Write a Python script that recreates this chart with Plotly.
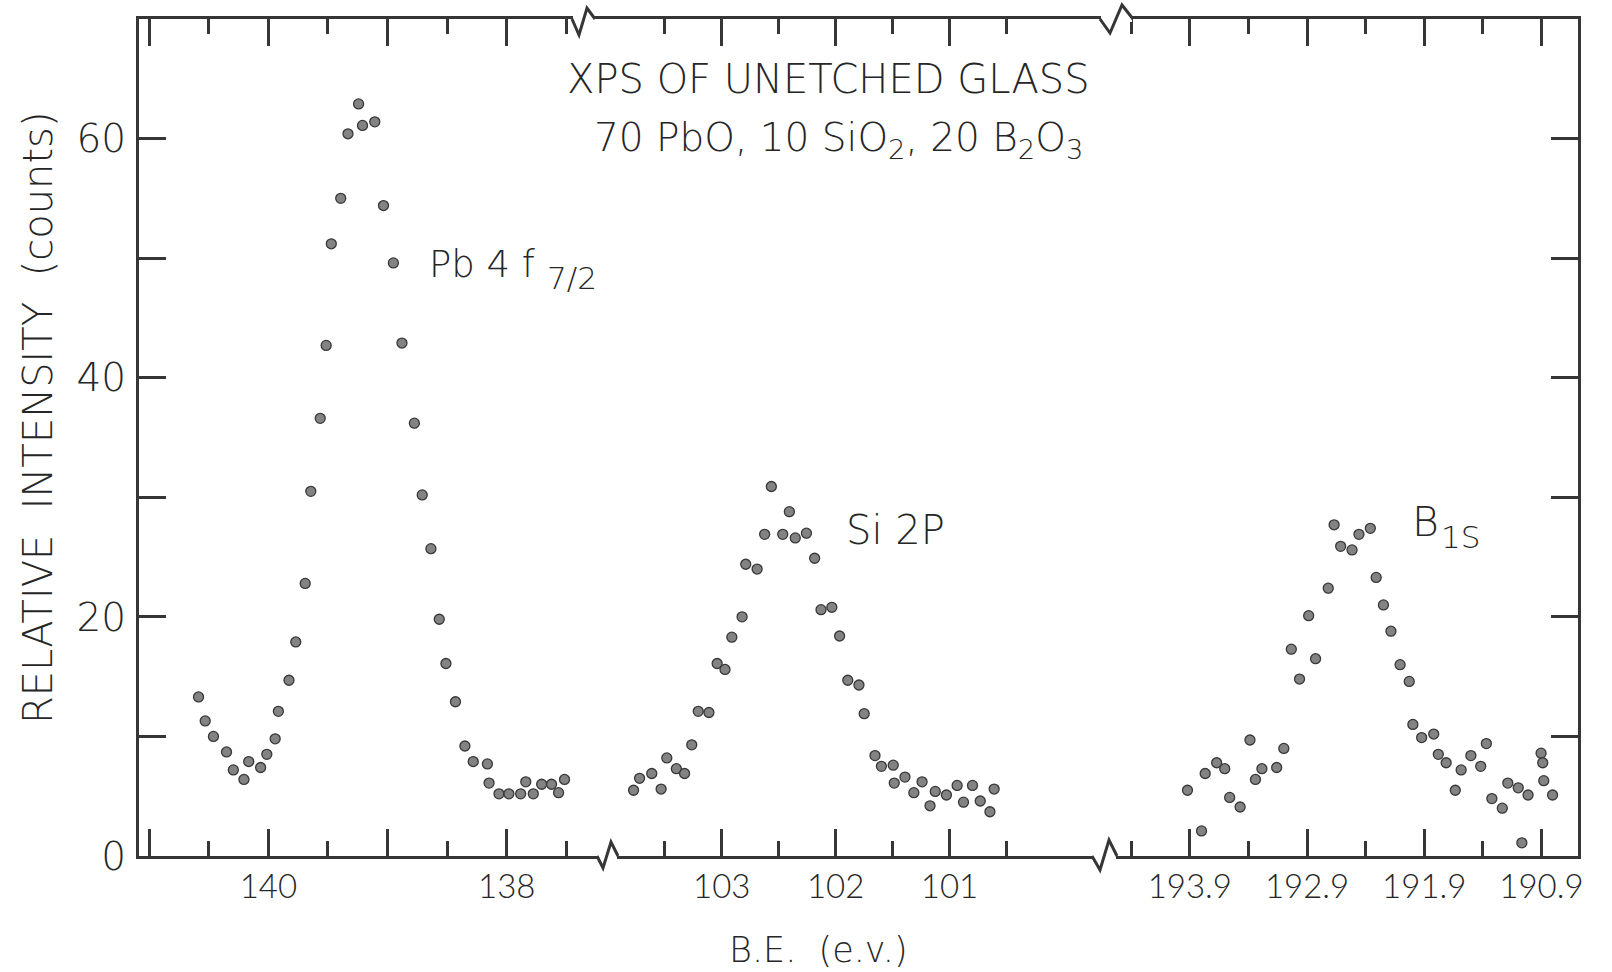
import plotly.graph_objects as go

# ---------------- data ----------------
pb_be = [140.586, 140.530, 140.461, 140.351, 140.294, 140.205, 140.165, 140.065, 140.013,
         139.943, 139.916, 139.827, 139.770, 139.691, 139.644, 139.565, 139.515, 139.472,
         139.393, 139.332, 139.243, 139.210, 139.107, 139.034, 138.951, 138.879, 138.775,
         138.709, 138.636, 138.566, 138.510, 138.430, 138.351, 138.281, 138.162, 138.148,
         138.065, 137.982, 137.883, 137.840, 137.777, 137.707, 137.624, 137.565, 137.515]
pb_counts = [13.3, 11.3, 10.0, 8.7, 7.2, 6.4, 7.9, 7.4, 8.5,
             9.8, 12.1, 14.7, 17.9, 22.8, 30.5, 36.6, 42.7, 51.2,
             55.0, 60.4, 62.9, 61.1, 61.4, 54.4, 49.6, 42.9, 36.2,
             30.2, 25.7, 19.8, 16.1, 12.9, 9.2, 7.9, 7.7, 6.1,
             5.2, 5.2, 5.2, 6.2, 5.2, 6.0, 6.0, 5.3, 6.4]

si_be = [103.774, 103.721, 103.614, 103.532, 103.482, 103.398, 103.326, 103.263, 103.206,
         103.112, 103.040, 102.971, 102.911, 102.821, 102.789, 102.689, 102.623, 102.564,
         102.464, 102.406, 102.354, 102.256, 102.184, 102.128, 102.033, 101.965, 101.893,
         101.795, 101.749, 101.654, 101.598, 101.494, 101.485, 101.391, 101.313, 101.241,
         101.171, 101.125, 101.027, 100.933, 100.877, 100.798, 100.730, 100.645, 100.608]
si_counts = [5.5, 6.5, 6.9, 5.6, 8.2, 7.3, 6.9, 9.3, 12.1,
             12.0, 16.1, 15.6, 18.3, 20.0, 24.4, 24.0, 26.9, 30.9,
             26.9, 28.8, 26.6, 27.0, 24.9, 20.6, 20.8, 18.4, 14.7,
             14.3, 11.9, 8.4, 7.5, 7.6, 6.1, 6.6, 5.3, 6.2,
             4.2, 5.4, 5.1, 5.9, 4.5, 5.9, 4.6, 3.7, 5.6]

b_be = [193.920, 193.800, 193.769, 193.671, 193.602, 193.560, 193.471, 193.387, 193.340,
        193.285, 193.159, 193.098, 193.034, 192.964, 192.886, 192.827, 192.719, 192.669,
        192.613, 192.516, 192.457, 192.360, 192.310, 192.248, 192.184, 192.106, 192.028,
        191.997, 191.922, 191.819, 191.780, 191.713, 191.635, 191.585, 191.502, 191.418,
        191.370, 191.323, 191.234, 191.187, 191.098, 191.067, 191.014, 190.903, 190.889,
        190.880, 190.805]
b_counts = [5.5, 2.1, 6.9, 7.8, 7.3, 4.9, 4.1, 9.7, 6.4,
            7.3, 7.4, 9.0, 17.3, 14.8, 20.1, 16.5, 22.4, 27.7,
            25.9, 25.6, 26.9, 27.4, 23.3, 21.0, 18.8, 16.0, 14.6,
            11.0, 9.9, 10.2, 8.5, 7.8, 5.5, 7.2, 8.4, 7.5,
            9.4, 4.8, 4.0, 6.1, 5.7, 1.1, 5.1, 8.6, 7.8,
            6.3, 5.1]

pb_ticks = [140, 138]
pb_ticktext = ["140", "138"]
pb_long_unlabeled = [141, 139]
pb_minor = [140.5, 139.5, 138.5, 137.5]
si_ticks = [103, 102, 101]
si_ticktext = ["103", "102", "101"]
si_minor = [103.5, 102.5, 101.5, 100.5]
b_ticks = [193.9, 192.9, 191.9, 190.9]
b_ticktext = ["193.9", "192.9", "191.9", "190.9"]
b_minor = [194.4, 193.4, 192.4, 191.4]
y_ticks = [0, 20, 40, 60]
y_ticktext = ["0", "20", "40", "60"]
y_minor = [10, 30, 50]

# ---------------- layout geometry ----------------
W, H = 1612, 972
L, R, T, B = 139, 1578, 19, 856
def px(x):
    return (x - L) / (R - L)
def py(y):
    return (B - y) / (B - T)

d1 = px(605)
d2 = px(1112)
PB_RANGE = [141.0856, 137.1753]
SI_RANGE = [104.0246, 99.5733]
B_RANGE = [194.564, 190.588]

INK = "#363636"
TXT = "#262626"
FONT = "'DejaVu Sans', Lato, sans-serif"
TICKFONT = "Lato, 'DejaVu Sans', sans-serif"

marker = dict(size=10, color="#838383", line=dict(color="#383838", width=1.3))

fig = go.Figure()
fig.add_trace(go.Scatter(x=pb_be, y=pb_counts, mode="markers", marker=marker,
                         xaxis="x", yaxis="y", showlegend=False, name="Pb 4f7/2"))
fig.add_trace(go.Scatter(x=si_be, y=si_counts, mode="markers", marker=marker,
                         xaxis="x2", yaxis="y", showlegend=False, name="Si 2p"))
fig.add_trace(go.Scatter(x=b_be, y=b_counts, mode="markers", marker=marker,
                         xaxis="x3", yaxis="y", showlegend=False, name="B 1s"))
fig.add_trace(go.Scatter(x=[], y=[], xaxis="x3", yaxis="y2", showlegend=False))
fig.add_trace(go.Scatter(x=[], y=[], xaxis="x4", yaxis="y", showlegend=False))

tickfont_x = dict(family=TICKFONT, size=33, color=TXT, weight=300)

def xaxis(dom, rng, tv, tt, mv):
    return dict(domain=dom, range=rng, anchor="y", showline=True, linecolor=INK,
                linewidth=3, mirror="ticks", ticks="inside", ticklen=27, tickwidth=2.5,
                tickcolor=INK, tickvals=tv, ticktext=tt, tickfont=tickfont_x,
                ticklabelstandoff=-1, showgrid=False, zeroline=False,
                minor=dict(tickvals=mv, ticks="inside", ticklen=15, tickwidth=2.5,
                           tickcolor=INK, showgrid=False))

def yaxis_common():
    return dict(range=[0, 70], showline=True, linecolor=INK, linewidth=3,
                ticks="inside", ticklen=27, tickwidth=2.5, tickcolor=INK,
                tickvals=y_ticks, showgrid=False, zeroline=False,
                minor=dict(tickvals=y_minor, ticks="inside", ticklen=27, tickwidth=2.5,
                           tickcolor=INK, showgrid=False))

ya = yaxis_common()
ya.update(anchor="x", ticktext=y_ticktext, ticklabelstandoff=2,
          tickfont=dict(family=FONT, size=39, color=TXT, weight=200))
ya2 = yaxis_common()
ya2.update(overlaying="y", anchor="x3", side="right", showticklabels=False)

fig.update_layout(
    width=W, height=H,
    margin=dict(l=L, r=W - R, t=T, b=H - B, pad=0),
    paper_bgcolor="white", plot_bgcolor="white",
    xaxis=xaxis([0, d1], PB_RANGE, pb_ticks, pb_ticktext, pb_minor),
    xaxis2=xaxis([d1, d2], SI_RANGE, si_ticks, si_ticktext, si_minor),
    xaxis3=xaxis([d2, 1], B_RANGE, b_ticks, b_ticktext, b_minor),
    xaxis4=dict(overlaying="x", anchor="y", range=PB_RANGE, showline=True,
                linecolor=INK, linewidth=3, mirror="ticks", ticks="inside",
                ticklen=27, tickwidth=2.5, tickcolor=INK,
                tickvals=pb_long_unlabeled, showticklabels=False,
                showgrid=False, zeroline=False),
    yaxis=ya,
    yaxis2=ya2,
)

def txt(text, x, y, size, xanchor="center", xref="paper", yref="paper", angle=0):
    fig.add_annotation(text=text, x=x, y=y, xref=xref, yref=yref, showarrow=False,
                       xanchor=xanchor, yanchor="middle", textangle=angle,
                       font=dict(family=FONT, size=size, color=TXT, weight=200))

txt("XPS OF UNETCHED GLASS", px(828), py(79), 40)
txt("70 PbO, 10 SiO<sub>2</sub>, 20 B<sub>2</sub>O<sub>3</sub>", px(838), py(140), 39)
txt("B.E.  (e.v.)", px(818), py(950), 35)
txt("RELATIVE\u00a0\u00a0INTENSITY\u00a0\u00a0(counts)", px(38), py(418), 40, angle=-90)

# peak labels placed in data coordinates of their own segment
txt("Pb 4 f", 138.67, 49.5, 37, xanchor="left", xref="x", yref="y")
txt("7/2", 137.68, 48.3, 31, xanchor="left", xref="x", yref="y")
txt("Si 2P", 101.93, 27.3, 40, xanchor="left", xref="x2", yref="y")
txt("B", 192.02, 27.9, 41, xanchor="left", xref="x3", yref="y")
txt("1S", 191.77, 26.7, 31, xanchor="left", xref="x3", yref="y")

# axis break zigzags (decoration)
breaks = [
    [(597, B), (603, B + 12), (611, B - 14), (618, B)],
    [(1092, B), (1100, B + 14), (1109, B - 16), (1117, B)],
    [(572, T), (579, T + 16), (587, T - 11), (595, T)],
    [(1100, T), (1110, T + 14), (1122, T - 14), (1133, T)],
]
shapes = []
for pts in breaks:
    x0, x1 = pts[0][0], pts[-1][0]
    y0 = pts[0][1]
    shapes.append(dict(type="rect", xref="paper", yref="paper", layer="above",
                       x0=px(x0 + 1), x1=px(x1 - 1), y0=py(y0 + 3), y1=py(y0 - 3),
                       fillcolor="white", line=dict(width=0)))
    path = "M " + " L ".join(f"{px(x):.5f},{py(y):.5f}" for x, y in pts)
    shapes.append(dict(type="path", xref="paper", yref="paper", layer="above",
                       path=path, line=dict(color=INK, width=3)))
fig.update_layout(shapes=shapes)

fig.write_html("out.html")
